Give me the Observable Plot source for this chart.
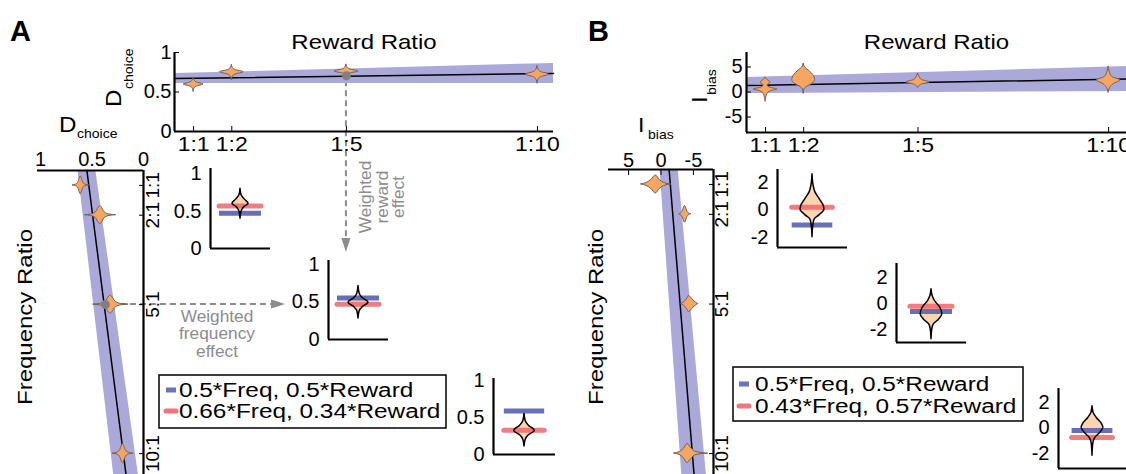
<!DOCTYPE html>
<html><head><meta charset="utf-8">
<script src="https://cdn.jsdelivr.net/npm/d3@7"></script>
<script src="https://cdn.jsdelivr.net/npm/@observablehq/plot@0.6"></script>
<style>
html,body{margin:0;padding:0;background:#fff;overflow:hidden}
#fig{position:relative;width:1126px;height:474px;overflow:hidden;font-family:"Liberation Sans",Arial,Helvetica,sans-serif}
</style></head>
<body><div id="fig"></div>
<script>
// ---------------- data ----------------
const rewardRatios = [1, 2, 5, 10];
const rewardLabels = ["1:1", "1:2", "1:5", "1:10"];
const freqRatios = [1, 2, 5, 10];
const freqLabels = ["1:1", "2:1", "5:1", "10:1"];

// Panel A (D_choice) – reward-ratio violins
const aRewardCenter = [0.595, 0.75, 0.76, 0.72];
const aRewardHalfRange = [0.09, 0.095, 0.09, 0.11];
const aRewardHalfWidth = [0.26, 0.31, 0.31, 0.31];
// Panel A – frequency-ratio violins
const aFreqCenter = [0.61, 0.42, 0.32, 0.2];
const aFreqHalfRange = [0.08, 0.15, 0.17, 0.1];
const aFreqHalfWidth = [0.3, 0.3, 0.3, 0.32];
// shared 4-point star violin outline: [offset fraction, width fraction]
const starShape = [[-1, 0], [-0.6, 0.08], [-0.3, 0.3], [0, 1], [0.3, 0.3], [0.6, 0.08], [1, 0]];

// Panel A regression fits (end points, 95% band half-width)
const aRewardFitX = [0.5, 10.42], aRewardFitY = [0.67, 0.735], aRewardFitCI = [0.063, 0.127];
const aFreqFitF = [0.5, 10.7], aFreqFitD = [0.55, 0.17], aFreqFitCI = [0.087, 0.12];
const aRewardDot = {x: 5, y: 0.705};
const aFreqDot = {f: 5, d: 0.37};

// Panel A insets: model lines and violins [value, half-width]
const aInsetBlue = [0.47, 0.55, 0.59];
const aInsetRed = [0.57, 0.47, 0.33];
const aInsetViolins = [
  [[0.8, 0], [0.72, 0.03], [0.66, 0.13], [0.6, 0.27], [0.55, 0.12], [0.5, 0.04], [0.4, 0]],
  [[0.71, 0], [0.61, 0.04], [0.55, 0.14], [0.49, 0.33], [0.43, 0.14], [0.38, 0.04], [0.28, 0]],
  [[0.55, 0], [0.45, 0.04], [0.39, 0.14], [0.32, 0.33], [0.26, 0.14], [0.2, 0.04], [0.11, 0]]
];

// Panel B (I_bias) – reward-ratio violins [value, half-width]
const bRewardViolins = [
  [[2.9, 0], [2.4, 0.05], [1.9, 0.13], [1.3, 0.05], [0.8, 0.15], [0.5, 0.31], [0.2, 0.15], [-0.4, 0.05], [-1.9, 0]],
  [[5.7, 0], [4.9, 0.04], [4.3, 0.13], [3.4, 0.25], [2.4, 0.3], [1.6, 0.22], [1.0, 0.08], [0.5, 0.02], [-0.3, 0]],
  [[3.7, 0], [3.0, 0.04], [2.4, 0.1], [1.9, 0.31], [1.5, 0.1], [1.2, 0.04], [0.9, 0]],
  [[5.1, 0], [4.0, 0.03], [3.0, 0.1], [2.3, 0.31], [1.6, 0.14], [0.8, 0.04], [-0.1, 0]]
];
// Panel B – frequency-ratio violins [value, half-width]
const bFreqViolins = [
  [[3.1, 0], [2.2, 0.05], [1.5, 0.15], [0.8, 0.3], [0.2, 0.15], [-0.5, 0.05], [-1.5, 0]],
  [[-2.8, 0], [-3.3, 0.08], [-3.7, 0.28], [-4.1, 0.08], [-4.6, 0]],
  [[-3.1, 0], [-3.6, 0.06], [-4.1, 0.2], [-4.3, 0.27], [-5.0, 0.12], [-5.7, 0]],
  [[-2.0, 0], [-2.9, 0.05], [-3.5, 0.15], [-4.1, 0.32], [-4.6, 0.2], [-5.3, 0.06], [-7.2, 0]]
];
const bRewardFitX = [0.5, 10.47], bRewardFitY = [1.3, 2.6], bRewardFitCI = [1.6, 2.5];
const bFreqFitF = [0.5, 10.7], bFreqFitI = [-1.25, -5.1], bFreqFitCI = [1.4, 1.9];

// Panel B insets
const bInsetBlue = [-1.1, -0.6, -0.2];
const bInsetRed = [0.2, -0.2, -0.75];
const bInsetViolins = [
  [[2.6, 0], [1.8, 0.03], [1.3, 0.08], [0.8, 0.2], [0.3, 0.32], [0.0, 0.34], [-0.4, 0.2], [-0.7, 0.06], [-1.2, 0.02], [-2.0, 0]],
  [[1.1, 0], [0.6, 0.03], [0.2, 0.1], [-0.3, 0.25], [-0.8, 0.31], [-1.2, 0.22], [-1.6, 0.06], [-2.0, 0.02], [-2.7, 0]],
  [[1.7, 0], [1.2, 0.03], [0.8, 0.12], [0.3, 0.28], [0.0, 0.32], [-0.4, 0.22], [-0.8, 0.08], [-1.3, 0.02], [-2.2, 0]]
];

const legendA = ["0.5*Freq, 0.5*Reward", "0.66*Freq, 0.34*Reward"];
const legendB = ["0.5*Freq, 0.5*Reward", "0.43*Freq, 0.57*Reward"];

// ---------------- style ----------------
const FONT = '"Liberation Sans", Arial, Helvetica, sans-serif';
const violinFill = "#f6a661", violinStroke = "#6e6259";
const bandFill = "#aba9da";
const insetFill = "#fdd4b0";
const blueC = "#5b63b3", redC = "#f2656b";
const grayC = "#8c8c8c";
const baseStyle = {background: "transparent", overflow: "visible", fontFamily: FONT, fontSize: "20px", color: "black", maxWidth: "none"};
const M = 40;

const fig = document.getElementById("fig");
const NS = "http://www.w3.org/2000/svg";
function el(parent, tag, attrs) {
  const e = document.createElementNS(NS, tag);
  for (const k in attrs) e.setAttribute(k, attrs[k]);
  parent.appendChild(e);
  return e;
}
function label(parent, x, y, str, {size = 20, anchor = "start", rotate = 0, sx = 1, weight = "normal", fill = "black"} = {}) {
  const t = el(parent, "text", {
    transform: `translate(${x},${y})${rotate ? ` rotate(${rotate})` : ""} scale(${sx},1)`,
    "text-anchor": anchor, "font-size": size, "font-weight": weight, fill, "font-family": FONT
  });
  t.textContent = str;
  return t;
}
function stretch(svg, aria, s) {
  svg.querySelectorAll(`g[aria-label="${aria}"] text`).forEach(t => {
    const tr = t.getAttribute("transform");
    if (tr) t.setAttribute("transform", tr + ` scale(${s},1)`);
  });
}

const under = el(fig, "svg", {width: 1126, height: 474, style: "position:absolute;left:0;top:0"});

function place(frame, build) {
  const [L, T, R, B] = frame;
  const dims = {width: R - L + 2 * M, height: B - T + 2 * M, marginLeft: M, marginRight: M, marginTop: M, marginBottom: M};
  const svg = build(dims);
  svg.style.position = "absolute";
  svg.style.left = (L - M) + "px";
  svg.style.top = (T - M) + "px";
  fig.appendChild(svg);
  const sx = svg.scale("x"), sy = svg.scale("y");
  return {svg, L, T, R, B, px: v => L - M + sx.apply(v), py: v => T - M + sy.apply(v)};
}

function rows(positions, profiles) {
  return profiles.flatMap((prof, i) =>
    prof.slice().sort((a, b) => a[0] - b[0]).map(([v, w]) => ({id: i, pos: positions[i], v, w})));
}
function starProfiles(center, half, width) {
  return center.map((c, i) => starShape.map(([t, s]) => [c + t * half[i], s * width[i]]));
}
function fitRows(xs, ys, cis) {
  return xs.map((x, i) => ({x, y: ys[i], lo: ys[i] - cis[i], hi: ys[i] + cis[i]}));
}
const fmt = d => String(d);

// ---------------- top "Reward Ratio" plots ----------------
function rewardPlot(frame, xDomain, yDomain, yTicks, fit, violins, dot, yPad) {
  return place(frame, dims => Plot.plot({
    ...dims, style: baseStyle,
    x: {domain: xDomain, label: null},
    y: {domain: yDomain, label: null},
    marks: [
      Plot.areaY(fit, {x: "x", y1: "lo", y2: "hi", fill: bandFill}),
      Plot.line(fit, {x: "x", y: "y", stroke: "black", strokeWidth: 1.5}),
      Plot.areaX(violins, {y: "v", x1: r => r.pos - r.w, x2: r => r.pos + r.w, z: "id", curve: "monotone-y",
        fill: violinFill, stroke: violinStroke, strokeWidth: 1}),
      dot ? Plot.dot([dot], {x: "x", y: "y", r: 4.5, fill: "#808080"}) : null,
      Plot.ruleX([xDomain[0]], {stroke: "black", strokeWidth: 2.2}),
      Plot.ruleY([yDomain[0]], {stroke: "black", strokeWidth: 2.2}),
      Plot.axisY({ticks: yTicks, tickFormat: fmt, tickSize: -5, tickPadding: yPad, fontSize: 20}),
      Plot.axisX({ticks: rewardRatios, tickFormat: d => rewardLabels[rewardRatios.indexOf(d)], tickSize: -5, tickPadding: 10, fontSize: 20}),
      Plot.text(["Reward Ratio"], {text: d => d, frameAnchor: "top", dy: -10, lineAnchor: "middle", fontSize: 20})
    ]
  }));
}

// ---------------- left "Frequency Ratio" plots ----------------
function freqPlot(frame, xDomain, xTicks, topTick, fit, violins, dot, labDx) {
  return place(frame, dims => Plot.plot({
    ...dims, style: baseStyle,
    x: {domain: xDomain, label: null},
    y: {domain: [0.5, 10.7], reverse: true, label: null},
    marks: [
      Plot.areaX(fit, {y: "x", x1: "lo", x2: "hi", fill: bandFill}),
      Plot.line(fit, {x: "y", y: "x", stroke: "black", strokeWidth: 1.5}),
      Plot.areaY(violins, {x: "v", y1: r => r.pos - r.w, y2: r => r.pos + r.w, z: "id", curve: "monotone-x",
        fill: violinFill, stroke: violinStroke, strokeWidth: 1}),
      dot ? Plot.dot([dot], {x: "d", y: "f", r: 4.5, fill: "#808080"}) : null,
      Plot.ruleY([0.5], {stroke: "black", strokeWidth: 2.2}),
      Plot.ruleX([xDomain[1]], {stroke: "black", strokeWidth: 2.2}),
      Plot.axisX({anchor: "top", ticks: xTicks, tickFormat: fmt, tickSize: topTick, tickPadding: topTick ? 8 : 5, fontSize: 20}),
      Plot.axisY({anchor: "right", ticks: freqRatios, tickSize: -5, tickFormat: () => ""}),
      Plot.text(freqRatios, {y: d => d, text: d => freqLabels[freqRatios.indexOf(d)], frameAnchor: "right",
        dx: labDx, rotate: -90, lineAnchor: "middle", textAnchor: "middle", fontSize: 19})
    ]
  }));
}

// ---------------- insets ----------------
function insetPlot(frame, yDomain, yTicks, profile, blue, red, half) {
  const data = rows([0], [profile]);
  return place(frame, dims => Plot.plot({
    ...dims, style: baseStyle,
    x: {domain: [-1, 1], axis: null},
    y: {domain: yDomain, label: null},
    marks: [
      Plot.areaX(data, {y: "v", x1: r => -r.w, x2: r => r.w, curve: "monotone-y", fill: insetFill}),
      Plot.ruleY([blue], {x1: () => -half, x2: () => half, stroke: blueC, strokeWidth: 5, strokeOpacity: 0.92}),
      Plot.ruleY([red], {x1: () => -half, x2: () => half, stroke: redC, strokeWidth: 5, strokeOpacity: 0.85, strokeLinecap: "round"}),
      Plot.areaX(data, {y: "v", x1: r => -r.w, x2: r => r.w, curve: "monotone-y", fill: "none", stroke: "black", strokeWidth: 1.5}),
      Plot.ruleX([-1], {stroke: "black", strokeWidth: 2.2}),
      Plot.ruleY([yDomain[0]], {stroke: "black", strokeWidth: 2.2}),
      Plot.axisY({ticks: yTicks, tickFormat: fmt, tickSize: 0, tickPadding: 9, fontSize: 20})
    ]
  }));
}

// Panel A
const aTop = rewardPlot([174, 52, 553, 131], [0.5, 10.42], [0, 1], [0, 0.5, 1],
  fitRows(aRewardFitX, aRewardFitY, aRewardFitCI),
  rows(rewardRatios, starProfiles(aRewardCenter, aRewardHalfRange, aRewardHalfWidth)), aRewardDot, 8);
const aLeft = freqPlot([37, 170, 143, 474], [1.03, 0], [1, 0.5, 0], 0,
  fitRows(aFreqFitF, aFreqFitD, aFreqFitCI),
  rows(freqRatios, starProfiles(aFreqCenter, aFreqHalfRange, aFreqHalfWidth)), aFreqDot, 9);
const aIn = [
  insetPlot([210, 168, 270, 248], [0, 1.07], [0, 0.5, 1], aInsetViolins[0], aInsetBlue[0], aInsetRed[0], 0.7),
  insetPlot([328, 260, 388, 339], [0, 1.05], [0, 0.5, 1], aInsetViolins[1], aInsetBlue[1], aInsetRed[1], 0.7),
  insetPlot([493, 378, 555, 454], [0, 1.03], [0, 0.5, 1], aInsetViolins[2], aInsetBlue[2], aInsetRed[2], 0.65)
];

// Panel B
const bTop = rewardPlot([746, 52, 1126, 132], [0.5, 10.47], [-8.1, 7.9], [-5, 0, 5],
  fitRows(bRewardFitX, bRewardFitY, bRewardFitCI), rows(rewardRatios, bRewardViolins), null, 9);
const bLeft = freqPlot([608, 169, 713, 474], [8.1, -8.1], [5, 0, -5], -5,
  fitRows(bFreqFitF, bFreqFitI, bFreqFitCI), rows(freqRatios, bFreqViolins), null, 8);
const bIn = [
  insetPlot([777, 169, 847, 247], [-2.75, 2.95], [-2, 0, 2], bInsetViolins[0], bInsetBlue[0], bInsetRed[0], 0.58),
  insetPlot([896, 263, 966, 342], [-2.95, 3.05], [-2, 0, 2], bInsetViolins[1], bInsetBlue[1], bInsetRed[1], 0.6),
  insetPlot([1058, 388, 1126, 468], [-3.2, 3.1], [-2, 0, 2], bInsetViolins[2], bInsetBlue[2], bInsetRed[2], 0.6)
];

// horizontal stretch of text to match the reference lettering
for (const p of [aTop, bTop]) { stretch(p.svg, "x-axis tick label", 1.15); stretch(p.svg, "text", 1.2); }

// ---------------- dashed arrows (under plots) ----------------
const dash = {stroke: grayC, "stroke-width": 2, "stroke-dasharray": "6,4", fill: "none"};
{
  const x = aTop.px(aRewardDot.x), y0 = aTop.py(aRewardDot.y) + 5, tip = aIn[1].T - 8;
  el(under, "line", {x1: x, y1: y0, x2: x, y2: tip - 12, ...dash});
  el(under, "polygon", {points: `${x - 4.5},${tip - 14} ${x + 4.5},${tip - 14} ${x},${tip}`, fill: grayC});
}
{
  const y = aLeft.py(aFreqDot.f), x0 = aLeft.px(aFreqDot.d) + 5, tip = aIn[1].L - 43;
  el(under, "line", {x1: x0, y1: y, x2: tip - 12, y2: y, ...dash});
  el(under, "polygon", {points: `${tip - 14},${y - 4.5} ${tip - 14},${y + 4.5} ${tip},${y}`, fill: grayC});
}

// ---------------- annotations (over plots) ----------------
const over = el(fig, "svg", {width: 1126, height: 474, style: "position:absolute;left:0;top:0"});
label(over, 10, 41, "A", {size: 29, weight: "bold"});
label(over, 588, 41, "B", {size: 29, weight: "bold"});

// axis titles with subscripts
label(over, 121, 107, "D", {size: 22, rotate: -90, sx: 1.1});
label(over, 133, 89, "choice", {size: 13, rotate: -90, sx: 1.08});
label(over, 59, 132, "D", {size: 22, sx: 1.1});
label(over, 77, 138, "choice", {size: 13, sx: 1.08});
label(over, 707, 103, "I", {size: 22, rotate: -90, sx: 1.1});
label(over, 716, 95, "bias", {size: 13, rotate: -90, sx: 1.08});
label(over, 638, 132, "I", {size: 21, sx: 1.1});
label(over, 648, 139, "bias", {size: 13, sx: 1.08});
label(over, 32, 317, "Frequency Ratio", {size: 20, rotate: -90, anchor: "middle", sx: 1.2});
label(over, 603, 317, "Frequency Ratio", {size: 20, rotate: -90, anchor: "middle", sx: 1.2});

// "Weighted ... effect" notes
["Weighted", "reward", "effect"].forEach((s, i) =>
  label(over, [371, 388, 404][i], 197, s, {size: 16, rotate: -90, anchor: "middle", fill: grayC, sx: 1.08}));
["Weighted", "frequency", "effect"].forEach((s, i) =>
  label(over, 217, [322, 339, 357][i], s, {size: 16, anchor: "middle", fill: grayC, sx: 1.08}));

// legends
function legend(box, items, mx, tx, ys) {
  el(over, "rect", {x: box[0], y: box[1], width: box[2], height: box[3], fill: "white", stroke: "black", "stroke-width": 1.5});
  [blueC, redC].forEach((c, i) => {
    el(over, "line", {x1: mx, x2: mx + 10, y1: ys[i] - 7, y2: ys[i] - 7, stroke: c, "stroke-width": 5,
      "stroke-linecap": i ? "round" : "butt", "stroke-opacity": 0.9});
    label(over, tx, ys[i], items[i], {size: 19.5, sx: 1.25});
  });
}
legend([159, 375, 287, 53], legendA, 166, 179, [397, 418]);
legend([733, 367, 290, 54], legendB, 739, 755, [391, 413]);
</script></body></html>
